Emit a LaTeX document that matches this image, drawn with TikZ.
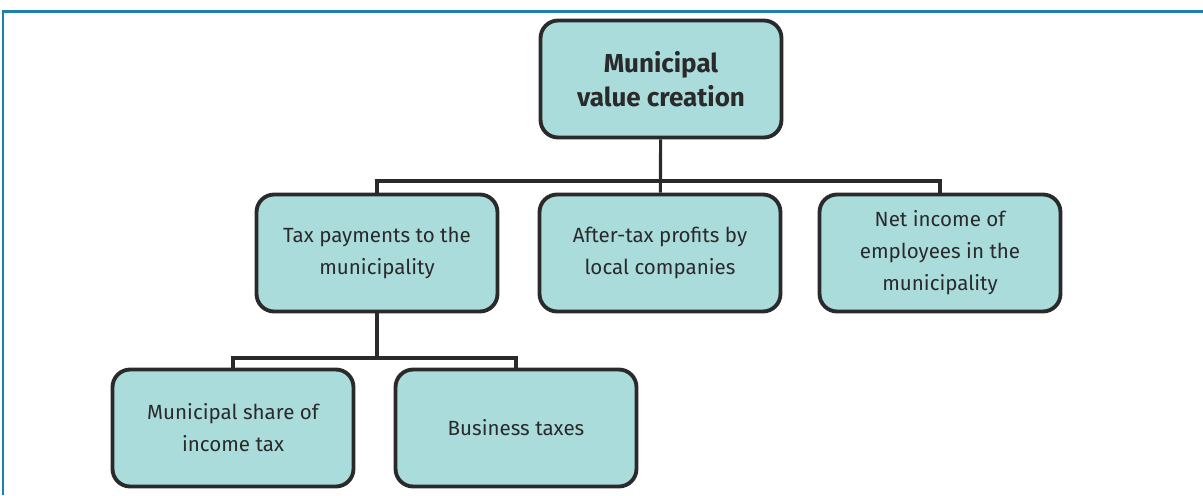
\documentclass[tikz,border=0pt]{standalone}
\usepackage{fontspec}
\setmainfont{Fira Sans}
\usepackage{tikz}
\usetikzlibrary{backgrounds}

\definecolor{boxfill}{HTML}{ABDCDC}
\definecolor{frameblue}{HTML}{1F80B0}
\definecolor{textgray}{HTML}{2A2A2A}

\tikzset{
  box/.style={draw=textgray, line width=2.2pt, rounded corners=10pt, fill=boxfill,
    minimum width=4.82cm, minimum height=2.34cm, align=center,
    text=textgray, font=\fontsize{11.7}{18.3}\selectfont},
  link/.style={draw=textgray, line width=1.8pt}
}

\begin{document}
\begin{tikzpicture}[x=0.02cm, y=-0.02cm]
        \useasboundingbox (0,0) rectangle (1203,495);
        \draw[frameblue, line width=1.7pt] (3,495) -- (3,11) -- (1203,11);

        \node[box, font=\bfseries\fontsize{14.8}{19.4}\selectfont] (top) at (661,79) {Municipal\\value creation};
        \node[box] (tax) at (377,253) {Tax payments to the\\municipality};
        \node[box] (profit) at (660,253) {After-tax profits by\\local companies};
        \node[box] (net) at (940,253) {Net income of\\employees in the\\municipality};
        \node[box] (share) at (233,428) {Municipal share of\\income tax};
        \node[box] (biz) at (516,428) {Business taxes};

        \coordinate (bus1) at (661,181);
        \coordinate (bus2) at (377,358);

        \draw[link] (top) -- (profit);
        \draw[link] (tax.north) |- (bus1) -| (net.north);
        \draw[link] (tax) -- (bus2);
        \draw[link] (share.north) |- (bus2) -| (biz.north);
    \end{tikzpicture}
\end{document}
